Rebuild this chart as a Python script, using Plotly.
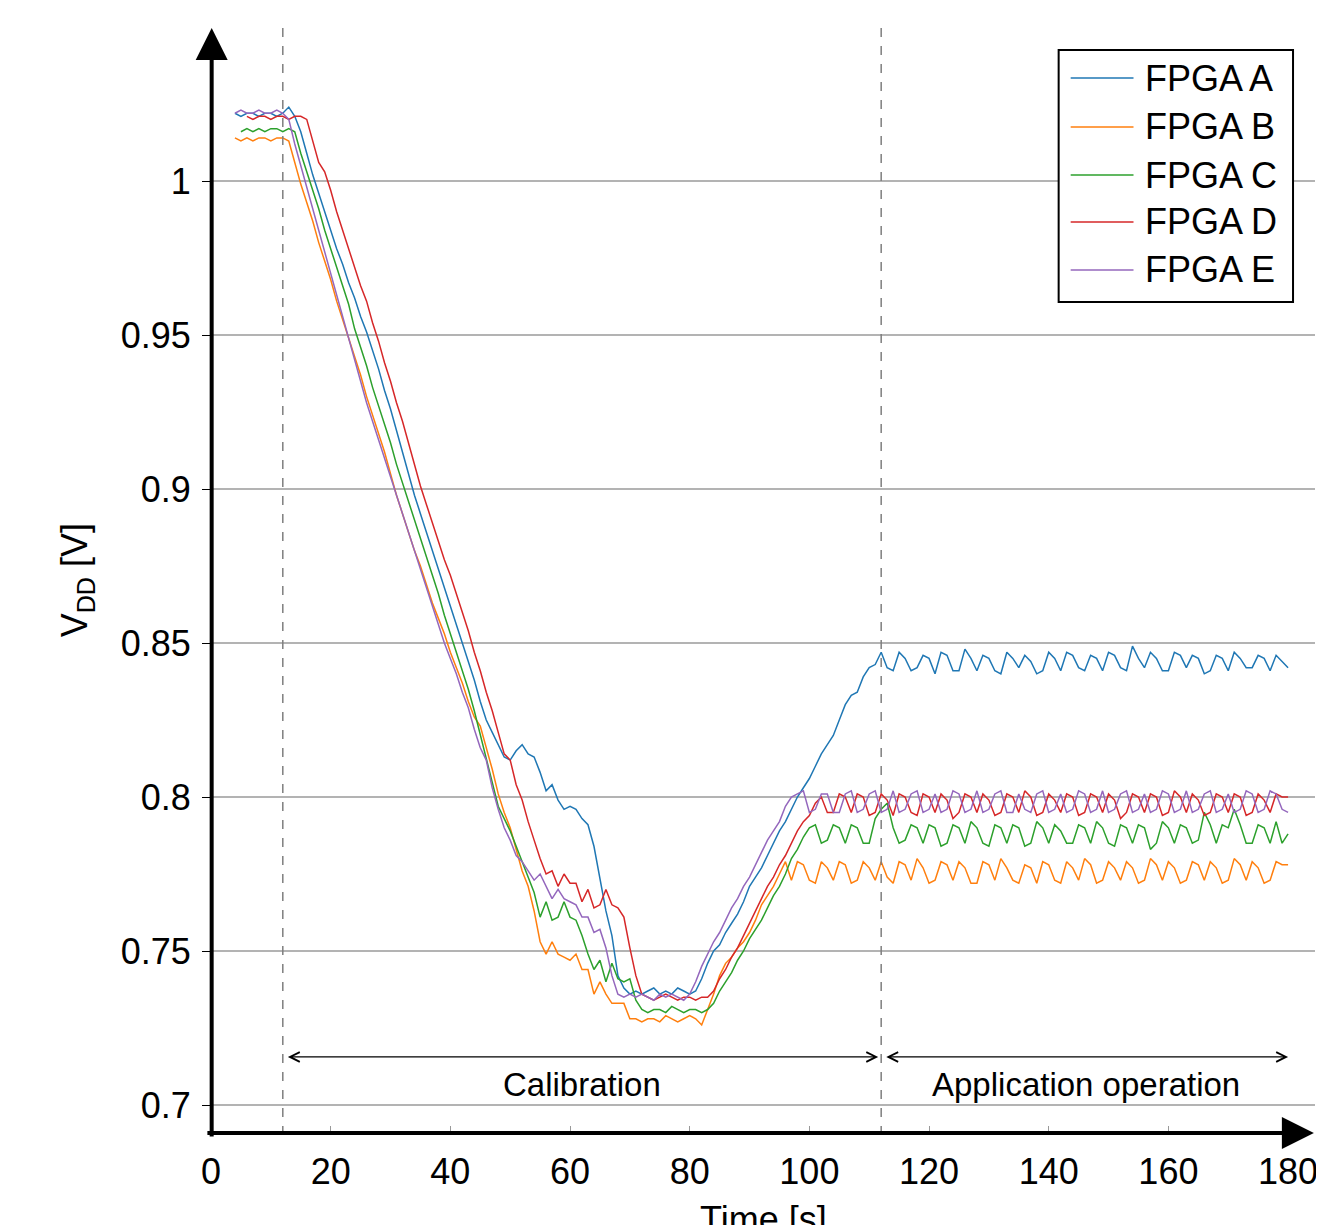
import plotly.graph_objects as go

# Sample times (s), one sample per second
time_s = list(range(4, 181))

# Supply voltage readings in mV (None = not yet logging)
fpga_a_mv = [
    1022, 1021, 1022, 1022, 1021, 1022, 1022, 1021, 1022, 1024,
    1021, 1016, 1009, 1002, 996, 990, 984, 978, 973, 967,
    962, 956, 951, 945, 939, 932, 926, 919, 912, 905,
    898, 892, 886, 880, 874, 868, 862, 856, 850, 844,
    838, 831, 825, 821, 817, 813, 812, 815, 817, 814,
    813, 808, 802, 804, 799, 796, 797, 796, 793, 791,
    784, 774, 763, 755, 742, 738, 736, 737, 736, 737,
    738, 736, 737, 736, 738, 737, 736, 737, 741, 746,
    750, 752, 756, 759, 762, 766, 771, 774, 777, 781,
    785, 789, 792, 796, 800, 803, 806, 810, 814, 817,
    820, 825, 830, 833, 834, 839, 842, 843, 847, 842,
    841, 847, 845, 841, 842, 846, 845, 840, 847, 846,
    841, 841, 848, 845, 841, 846, 845, 841, 840, 847,
    845, 842, 846, 844, 840, 841, 847, 845, 841, 847,
    846, 842, 841, 846, 845, 841, 847, 846, 842, 841,
    849, 845, 842, 847, 845, 841, 841, 847, 846, 842,
    846, 845, 840, 841, 846, 845, 841, 847, 845, 842,
    842, 846, 845, 841, 846, 844, 842,
]
fpga_b_mv = [
    1014, 1013, 1014, 1013, 1014, 1014, 1013, 1014, 1014, 1013,
    1006, 999, 993, 987, 980, 974, 968, 961, 955, 949,
    943, 937, 930, 924, 918, 912, 905, 898, 892, 886,
    880, 875, 869, 863, 858, 853, 847, 842, 837, 831,
    826, 823, 816, 809, 801, 795, 790, 783, 776, 771,
    763, 753, 749, 753, 749, 748, 747, 749, 744, 744,
    736, 740, 736, 733, 733, 733, 728, 728, 727, 728,
    728, 727, 729, 728, 727, 728, 729, 728, 726, 731,
    736, 742, 746, 748, 751, 753, 756, 760, 765, 768,
    771, 775, 779, 773, 779, 778, 773, 772, 779, 777,
    773, 779, 778, 772, 773, 779, 777, 773, 779, 774,
    772, 779, 778, 773, 780, 777, 772, 773, 779, 778,
    773, 779, 777, 772, 772, 779, 778, 773, 780, 777,
    773, 772, 778, 777, 772, 779, 778, 773, 772, 779,
    777, 773, 780, 778, 772, 773, 779, 777, 773, 779,
    777, 772, 773, 780, 778, 773, 779, 777, 772, 773,
    779, 778, 773, 779, 777, 772, 773, 780, 778, 773,
    779, 777, 772, 773, 779, 778, 778,
]
fpga_c_mv = [
    None, 1016, 1017, 1016, 1017, 1016, 1017, 1017, 1016, 1017,
    1016, 1009, 1003, 997, 991, 984, 978, 972, 966, 960,
    952, 946, 940, 933, 927, 921, 915, 908, 902, 896,
    890, 884, 878, 872, 866, 859, 853, 847, 841, 835,
    828, 820, 813, 805, 797, 793, 789, 784, 779, 774,
    769, 761, 766, 760, 761, 766, 761, 760, 755, 749,
    744, 747, 740, 746, 741, 740, 741, 734, 731, 730,
    731, 731, 730, 732, 731, 730, 731, 731, 730, 731,
    733, 737, 740, 743, 747, 750, 754, 757, 760, 764,
    768, 771, 775, 780, 783, 787, 790, 791, 785, 786,
    791, 790, 785, 791, 790, 785, 785, 793, 796, 798,
    790, 785, 786, 791, 790, 785, 791, 790, 784, 785,
    791, 790, 785, 792, 790, 785, 784, 791, 790, 785,
    791, 790, 784, 785, 792, 790, 785, 791, 789, 785,
    785, 791, 790, 785, 792, 790, 785, 784, 791, 790,
    785, 791, 790, 783, 785, 792, 790, 785, 791, 790,
    785, 786, 795, 791, 785, 791, 790, 796, 791, 785,
    785, 791, 790, 785, 792, 785, 788,
]
fpga_d_mv = [
    None, None, 1021, 1020, 1021, 1021, 1020, 1021, 1021, 1020,
    1021, 1021, 1020, 1013, 1006, 1003, 997, 990, 984, 978,
    972, 966, 961, 954, 948, 941, 935, 928, 922, 915,
    908, 901, 895, 889, 883, 877, 872, 866, 860, 854,
    847, 841, 834, 828, 821, 814, 812, 804, 799, 792,
    786, 780, 775, 776, 771, 775, 772, 772, 766, 770,
    764, 765, 770, 765, 764, 761, 751, 742, 736, 735,
    734, 735, 736, 735, 734, 735, 735, 734, 735, 735,
    737, 741, 744, 748, 751, 755, 759, 763, 767, 771,
    774, 778, 781, 785, 789, 792, 794, 798, 800, 795,
    795, 801, 800, 795, 801, 800, 794, 795, 801, 799,
    794, 801, 800, 795, 794, 801, 800, 795, 801, 799,
    793, 795, 801, 800, 795, 801, 799, 794, 795, 801,
    800, 795, 802, 800, 794, 795, 801, 799, 795, 801,
    800, 794, 795, 801, 800, 795, 801, 799, 793, 795,
    801, 800, 795, 801, 800, 794, 795, 802, 800, 795,
    801, 799, 794, 795, 801, 800, 795, 801, 800, 794,
    795, 801, 799, 795, 801, 800, 800,
]
fpga_e_mv = [
    1022, 1023, 1022, 1022, 1023, 1022, 1022, 1023, 1022, 1020,
    1012, 1005, 998, 991, 984, 977, 970, 963, 956, 949,
    942, 935, 928, 922, 916, 910, 904, 898, 892, 886,
    880, 874, 868, 862, 856, 850, 845, 840, 834, 829,
    822, 816, 812, 803, 796, 790, 786, 781, 779, 776,
    773, 775, 771, 767, 770, 767, 766, 765, 761, 761,
    756, 757, 751, 742, 736, 735, 736, 735, 736, 735,
    734, 736, 735, 736, 735, 734, 736, 740, 745, 749,
    753, 756, 760, 764, 767, 771, 774, 778, 782, 786,
    789, 792, 797, 800, 801, 802, 795, 796, 801, 801,
    795, 795, 801, 802, 795, 796, 801, 802, 795, 796,
    802, 795, 796, 801, 802, 795, 796, 801, 795, 796,
    802, 801, 795, 796, 802, 795, 796, 801, 802, 795,
    795, 801, 796, 795, 801, 802, 795, 796, 801, 795,
    796, 802, 801, 795, 796, 802, 795, 796, 801, 802,
    795, 796, 801, 795, 796, 802, 801, 795, 796, 802,
    795, 796, 801, 802, 795, 796, 801, 795, 796, 802,
    801, 795, 796, 802, 801, 796, 795,
]

series_names = ["FPGA A", "FPGA B", "FPGA C", "FPGA D", "FPGA E"]
series_mv = [fpga_a_mv, fpga_b_mv, fpga_c_mv, fpga_d_mv, fpga_e_mv]
colors = ["#1f77b4", "#ff7f0e", "#2ca02c", "#d62728", "#9467bd"]

y_ticks = [0.7, 0.75, 0.8, 0.85, 0.9, 0.95, 1.0]
y_tick_text = ["0.7", "0.75", "0.8", "0.85", "0.9", "0.95", "1"]
x_ticks = [0, 20, 40, 60, 80, 100, 120, 140, 160, 180]

# Phase boundaries (s)
calib_start, calib_end, app_end = 12, 112, 180

Y_MIN, Y_MAX = 0.69026, 1.04968
X_MAX = 184.5
FONT = "Liberation Sans, Arial, Helvetica, sans-serif"

fig = go.Figure()
for name, mv, color in zip(series_names, series_mv, colors):
    fig.add_trace(go.Scatter(
        x=time_s, y=[None if v is None else v / 1000 for v in mv],
        mode="lines", name=name, line=dict(color=color, width=1.5),
        showlegend=False,
    ))

# Phase separators
for xv in (calib_start, calib_end):
    fig.add_shape(type="line", xref="x", yref="paper", x0=xv, x1=xv, y0=0, y1=1.0,
                  line=dict(color="#7f7f7f", width=1.5, dash="dash"))

# Phase arrows + labels
arrow_y = 0.7156
for x0, x1, label in [(calib_start + 0.6, calib_end - 0.5, "Calibration"),
                      (calib_end + 0.6, app_end, "Application operation")]:
    fig.add_annotation(x=x1, y=arrow_y, ax=x0, ay=arrow_y, xref="x", yref="y", axref="x", ayref="y",
                       text="", showarrow=True, arrowside="end+start", arrowhead=5,
                       arrowsize=1.6, arrowwidth=1.2, arrowcolor="black")
    fig.add_annotation(x=(x0 + x1) / 2, y=0.7068, xref="x", yref="y", text=label, showarrow=False,
                       font=dict(size=33, family=FONT, color="black"))

# Axis lines with arrowheads
fig.add_annotation(x=0.999, y=0.0018, xref="paper", yref="paper", ax=-1108, ay=0,
                   text="", showarrow=True, arrowhead=2, arrowsize=1.6, arrowwidth=4, arrowcolor="black")
fig.add_annotation(x=0.0006, y=1.0, xref="paper", yref="paper", ax=0, ay=1110,
                   text="", showarrow=True, arrowhead=2, arrowsize=1.6, arrowwidth=4, arrowcolor="black")

# Legend drawn by hand (box, line samples, labels)
fig.add_shape(type="rect", xref="paper", yref="paper", x0=0.7678, x1=0.9801, y0=0.7525, y1=0.9801,
              line=dict(color="black", width=2), fillcolor="white", layer="above")
legend_rows = [0.9548, 0.9106, 0.8672, 0.8248, 0.7814]
for name, color, ly in zip(series_names, colors, legend_rows):
    fig.add_shape(type="line", xref="paper", yref="paper", x0=0.7787, x1=0.8356, y0=ly, y1=ly,
                  line=dict(color=color, width=1.5), layer="above")
    fig.add_annotation(x=0.8445, y=ly, xref="paper", yref="paper", xanchor="left", yanchor="middle",
                       text=name, showarrow=False, font=dict(size=36, family=FONT, color="black"))

# Axis titles
fig.add_annotation(x=-0.121, y=0.5014, xref="paper", yref="paper", xanchor="center", yanchor="middle",
                   text="V<sub>DD</sub> [V]", textangle=-90, showarrow=False,
                   font=dict(size=36, family=FONT, color="black"))
fig.add_annotation(x=92.3, y=-0.056, xref="x", yref="paper", xanchor="center", yanchor="top",
                   text="Time [s]", showarrow=False, font=dict(size=36, family=FONT, color="black"))

# Page body adds an 8 px margin, so the figure is 8 px smaller on each axis
fig.update_layout(
    width=1316, height=1217,
    margin=dict(l=203, r=6, t=20, b=90),
    plot_bgcolor="white", paper_bgcolor="white",
    font=dict(family=FONT, size=36, color="black"),
    showlegend=False,
)
fig.update_xaxes(range=[0, X_MAX], tickvals=x_ticks, showgrid=False, zeroline=False, showline=False,
                 ticks="inside", ticklen=9, tickwidth=1, tickcolor="#999999", ticklabelstandoff=12)
fig.update_yaxes(range=[Y_MIN, Y_MAX], tickvals=y_ticks, ticktext=y_tick_text,
                 showgrid=True, gridcolor="#b3b3b3", gridwidth=1.5, zeroline=False, showline=False,
                 ticks="outside", ticklen=8, tickwidth=1, tickcolor="black", ticklabelstandoff=4)

fig.write_html("out.html")
